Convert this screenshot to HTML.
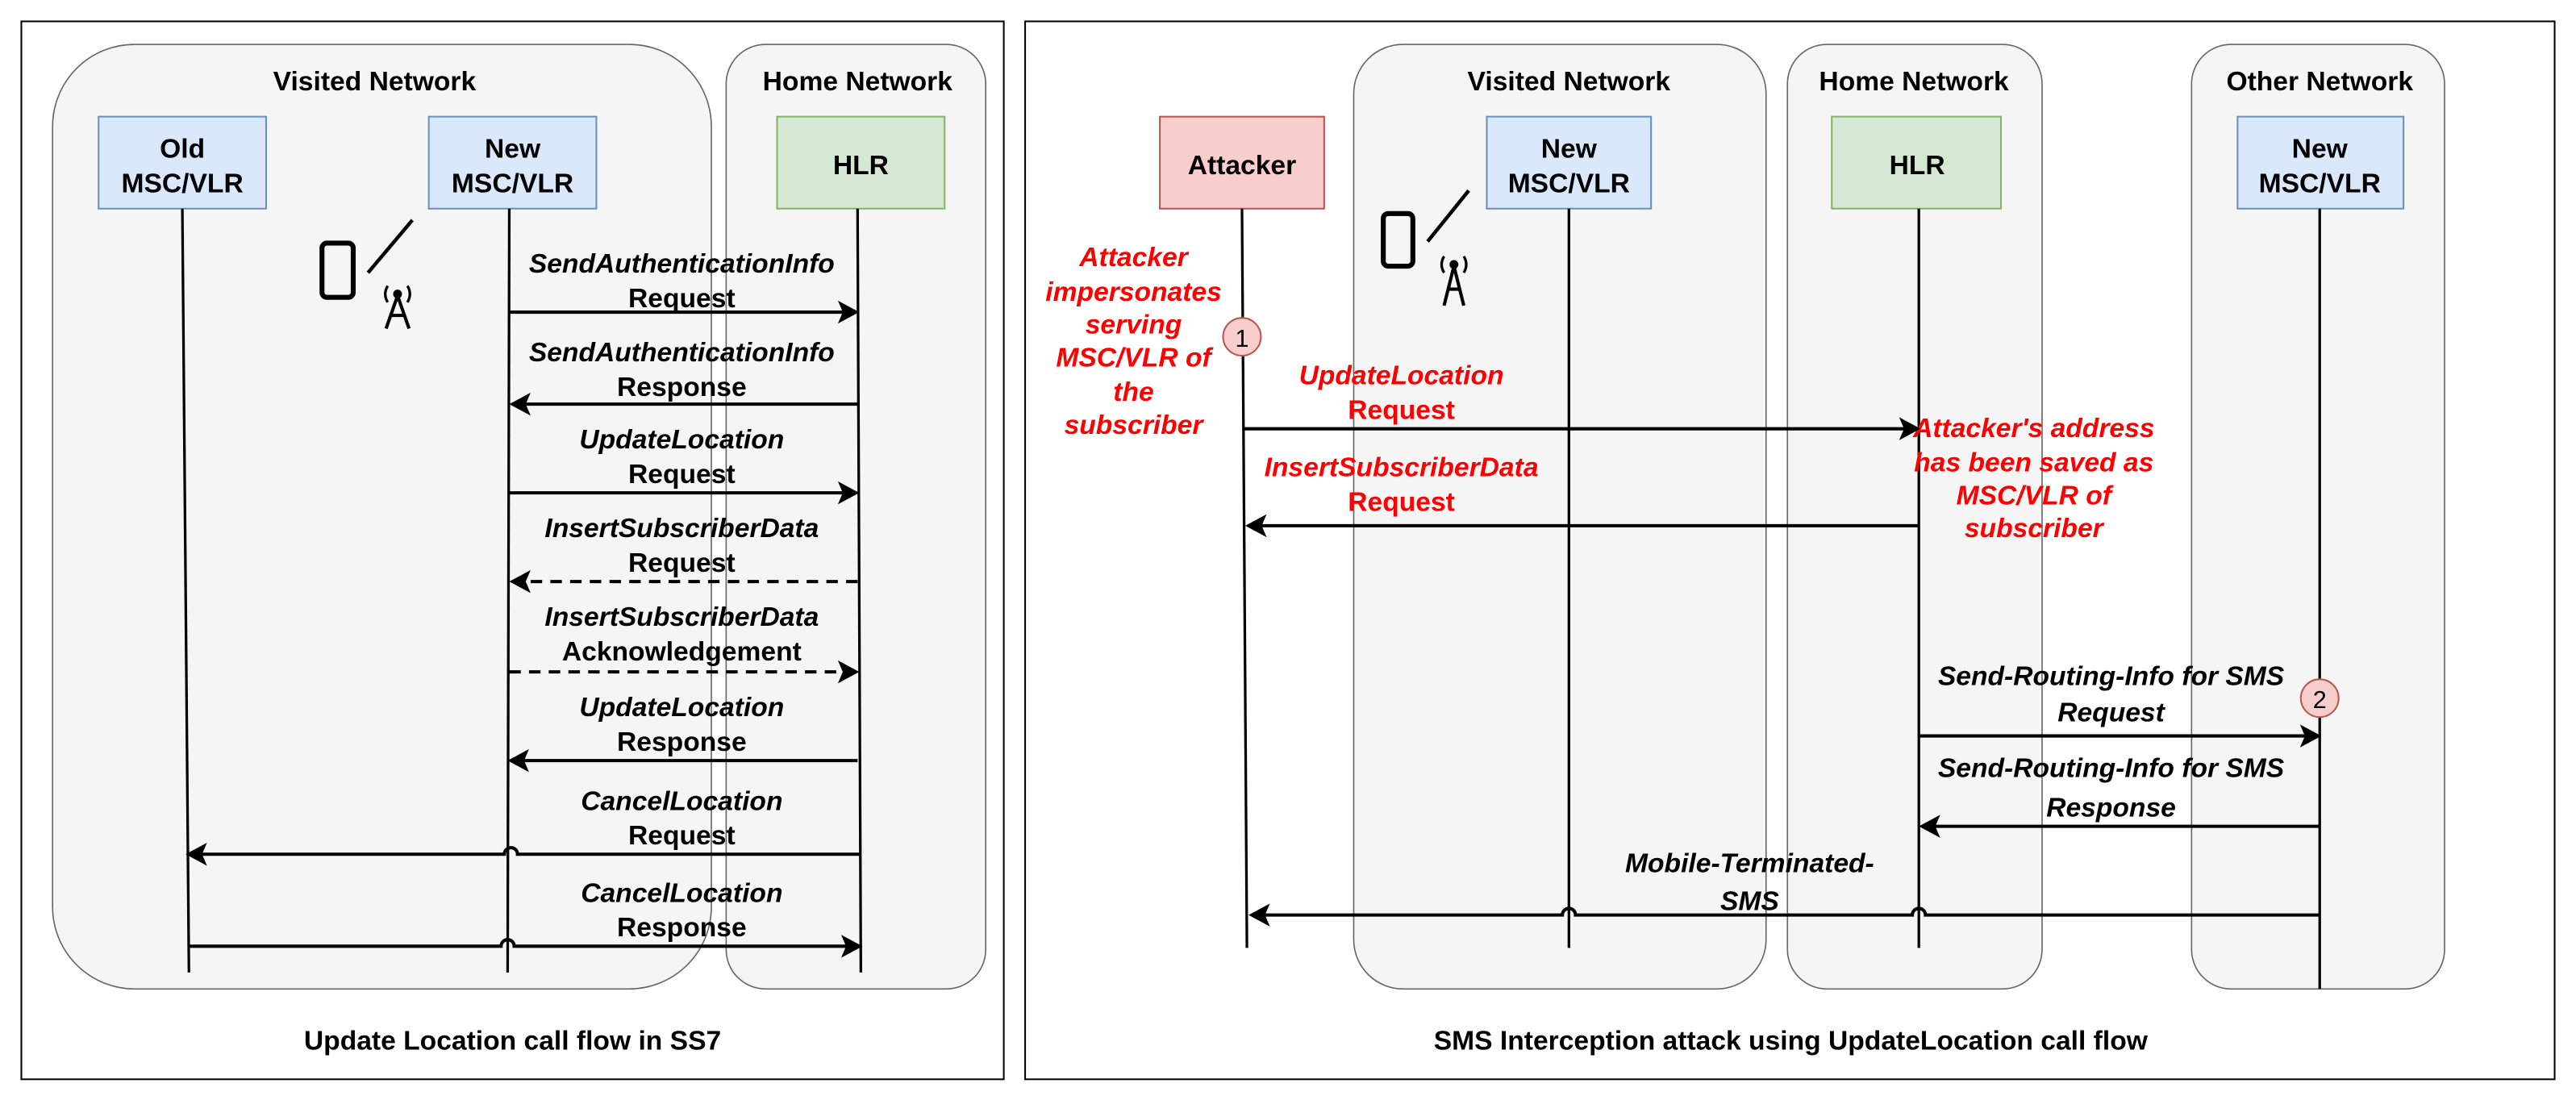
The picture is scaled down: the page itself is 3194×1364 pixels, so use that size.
<!DOCTYPE html>
<html><head><meta charset="utf-8"><style>html,body{margin:0;padding:0;background:#fff}svg{display:block}</style></head>
<body>
<svg width="3194" height="1364" viewBox="0 0 1568 669.6" xmlns="http://www.w3.org/2000/svg" font-family="Liberation Sans, Arial, sans-serif" font-weight="bold">
<rect x="0" y="0" width="1568" height="669.6" fill="#fff"/>
<!-- LEFT PANEL -->
<rect x="13" y="13" width="598" height="644" fill="#fff" stroke="#000" stroke-width="1"/>
<rect x="32" y="27" width="401" height="575" rx="50" fill="#f5f5f5" stroke="#666" stroke-width="0.8"/>
<rect x="442" y="27" width="158" height="575" rx="24" fill="#f5f5f5" stroke="#666" stroke-width="0.8"/>
<text x="228" y="55" font-size="16.5" text-anchor="middle">Visited Network</text>
<text x="522" y="55" font-size="16.5" text-anchor="middle">Home Network</text>
<rect x="60" y="71" width="102" height="56" fill="#dae8fc" stroke="#6c8ebf"/>
<rect x="261" y="71" width="102" height="56" fill="#dae8fc" stroke="#6c8ebf"/>
<rect x="473" y="71" width="102" height="56" fill="#d5e8d4" stroke="#82b366"/>
<text x="111" y="96" font-size="16.5" text-anchor="middle">Old</text>
<text x="111" y="117" font-size="16.5" text-anchor="middle">MSC/VLR</text>
<text x="312" y="96" font-size="16.5" text-anchor="middle">New</text>
<text x="312" y="117" font-size="16.5" text-anchor="middle">MSC/VLR</text>
<text x="524" y="106" font-size="16.5" text-anchor="middle">HLR</text>
<g stroke="#000" stroke-width="1.6" fill="none">
<line x1="111" y1="127" x2="115" y2="592"/>
<line x1="310" y1="127" x2="309" y2="592"/>
<line x1="522" y1="127" x2="524" y2="592"/>
</g>
<g stroke="#000" fill="none">
<rect x="196" y="148" width="19" height="33" rx="3" stroke-width="3"/>
<line x1="224" y1="166" x2="251" y2="134" stroke-width="2.2"/>
<circle cx="242" cy="179" r="2.2" fill="#000"/>
<path d="M236 174 q-3 5 0 10 M248 174 q3 5 0 10" stroke-width="1.6"/>
<path d="M242 180 L235 200 M242 180 L249 200 M237 192 L247 192" stroke-width="2"/>
</g>
<g font-size="16.5" text-anchor="middle">
<text x="415" y="166" font-style="italic">SendAuthenticationInfo</text><text x="415" y="187">Request</text>
<text x="415" y="220" font-style="italic">SendAuthenticationInfo</text><text x="415" y="241">Response</text>
<text x="415" y="273" font-style="italic">UpdateLocation</text><text x="415" y="294">Request</text>
<text x="415" y="327" font-style="italic">InsertSubscriberData</text><text x="415" y="348">Request</text>
<text x="415" y="381" font-style="italic">InsertSubscriberData</text><text x="415" y="402">Acknowledgement</text>
<text x="415" y="436" font-style="italic">UpdateLocation</text><text x="415" y="457">Response</text>
<text x="415" y="493" font-style="italic">CancelLocation</text><text x="415" y="514">Request</text>
<text x="415" y="549" font-style="italic">CancelLocation</text><text x="415" y="570">Response</text>
</g>
<g stroke="#000" stroke-width="2" fill="none">
<line x1="310" y1="190" x2="516" y2="190"/>
<line x1="522" y1="246" x2="316" y2="246"/>
<line x1="310" y1="300" x2="516" y2="300"/>
<line x1="522" y1="354" x2="316" y2="354" stroke-dasharray="7,5"/>
<line x1="310" y1="409" x2="516" y2="409" stroke-dasharray="7,5"/>
<line x1="522" y1="463" x2="316" y2="463"/>
<path d="M523 520 L315 520 a4 4 0 0 0 -8 0 L119 520"/>
<path d="M115 576 L305 576 a4 4 0 0 1 8 0 L518 576"/>
</g>
<g fill="#000">
<path d="M523 190 l-13 -7 l3 7 l-3 7z"/>
<path d="M310 246 l13 -7 l-3 7 l3 7z"/>
<path d="M523 300 l-13 -7 l3 7 l-3 7z"/>
<path d="M310 354 l13 -7 l-3 7 l3 7z"/>
<path d="M523 409 l-13 -7 l3 7 l-3 7z"/>
<path d="M309 463 l13 -7 l-3 7 l3 7z"/>
<path d="M113 520 l13 -7 l-3 7 l3 7z"/>
<path d="M525 576 l-13 -7 l3 7 l-3 7z"/>
</g>
<text x="312" y="639" font-size="16.5" text-anchor="middle">Update Location call flow in SS7</text>

<!-- RIGHT PANEL -->
<rect x="624" y="13" width="931" height="644" fill="#fff" stroke="#000" stroke-width="1"/>
<rect x="824" y="27" width="251" height="575" rx="30" fill="#f5f5f5" stroke="#666" stroke-width="0.8"/>
<rect x="1088" y="27" width="155" height="575" rx="24" fill="#f5f5f5" stroke="#666" stroke-width="0.8"/>
<rect x="1334" y="27" width="154" height="575" rx="24" fill="#f5f5f5" stroke="#666" stroke-width="0.8"/>
<text x="955" y="55" font-size="16.5" text-anchor="middle">Visited Network</text>
<text x="1165" y="55" font-size="16.5" text-anchor="middle">Home Network</text>
<text x="1412" y="55" font-size="16.5" text-anchor="middle">Other Network</text>
<rect x="706" y="71" width="100" height="56" fill="#f8cecc" stroke="#b85450"/>
<rect x="905" y="71" width="100" height="56" fill="#dae8fc" stroke="#6c8ebf"/>
<rect x="1115" y="71" width="103" height="56" fill="#d5e8d4" stroke="#82b366"/>
<rect x="1362" y="71" width="101" height="56" fill="#dae8fc" stroke="#6c8ebf"/>
<text x="756" y="106" font-size="16.5" text-anchor="middle">Attacker</text>
<text x="955" y="96" font-size="16.5" text-anchor="middle">New</text>
<text x="955" y="117" font-size="16.5" text-anchor="middle">MSC/VLR</text>
<text x="1167" y="106" font-size="16.5" text-anchor="middle">HLR</text>
<text x="1412" y="96" font-size="16.5" text-anchor="middle">New</text>
<text x="1412" y="117" font-size="16.5" text-anchor="middle">MSC/VLR</text>
<g stroke="#000" stroke-width="1.6" fill="none">
<line x1="756" y1="127" x2="759" y2="577"/>
<line x1="955" y1="127" x2="955" y2="577"/>
<line x1="1168" y1="127" x2="1168" y2="577"/>
<line x1="1412" y1="127" x2="1412" y2="602"/>
</g>
<g stroke="#000" fill="none">
<rect x="842" y="130" width="18" height="32" rx="3" stroke-width="3"/>
<line x1="869" y1="147" x2="894" y2="116" stroke-width="2.2"/>
<circle cx="885" cy="161" r="2.2" fill="#000"/>
<path d="M879 156 q-3 5 0 10 M891 156 q3 5 0 10" stroke-width="1.6"/>
<path d="M885 162 L879 186 M885 162 L891 186 M881 176 L889 176" stroke-width="2"/>
</g>
<g fill="#ff0000" font-size="16.5" font-style="italic" text-anchor="middle">
<text x="690" y="162">Attacker</text>
<text x="690" y="183">impersonates</text>
<text x="690" y="203">serving</text>
<text x="690" y="223">MSC/VLR of</text>
<text x="690" y="244">the</text>
<text x="690" y="264">subscriber</text>
<text x="853" y="234">UpdateLocation</text>
<text x="853" y="255" font-style="normal">Request</text>
<text x="853" y="290">InsertSubscriberData</text>
<text x="853" y="311" font-style="normal">Request</text>
<text x="1238" y="266">Attacker's address</text>
<text x="1238" y="287">has been saved as</text>
<text x="1238" y="307">MSC/VLR of</text>
<text x="1238" y="327">subscriber</text>
</g>
<g font-size="16.5" font-style="italic" text-anchor="middle">
<text x="1285" y="417">Send-Routing-Info for SMS</text>
<text x="1285" y="439">Request</text>
<text x="1285" y="473">Send-Routing-Info for SMS</text>
<text x="1285" y="497">Response</text>
<text x="1065" y="531">Mobile-Terminated-</text>
<text x="1065" y="554">SMS</text>
</g>
<circle cx="756" cy="205" r="11.5" fill="#f8cecc" stroke="#b85450"/>
<text x="756" y="211" font-size="15" font-weight="normal" text-anchor="middle">1</text>
<circle cx="1412" cy="425" r="11.5" fill="#f8cecc" stroke="#b85450"/>
<text x="1412" y="431" font-size="15" font-weight="normal" text-anchor="middle">2</text>
<g stroke="#000" stroke-width="2" fill="none">
<line x1="757" y1="261" x2="1162" y2="261"/>
<line x1="1168" y1="320" x2="764" y2="320"/>
<line x1="1168" y1="448" x2="1406" y2="448"/>
<line x1="1412" y1="503" x2="1174" y2="503"/>
<path d="M1412 557 L1172 557 a4 4 0 0 0 -8 0 L959 557 a4 4 0 0 0 -8 0 L766 557"/>
</g>
<g fill="#000">
<path d="M1169 261 l-13 -7 l3 7 l-3 7z"/>
<path d="M758 320 l13 -7 l-3 7 l3 7z"/>
<path d="M1413 448 l-13 -7 l3 7 l-3 7z"/>
<path d="M1168 503 l13 -7 l-3 7 l3 7z"/>
<path d="M760 557 l13 -7 l-3 7 l3 7z"/>
</g>
<text x="1090" y="639" font-size="16.5" text-anchor="middle">SMS Interception attack using UpdateLocation call flow</text>
</svg>
</body></html>
